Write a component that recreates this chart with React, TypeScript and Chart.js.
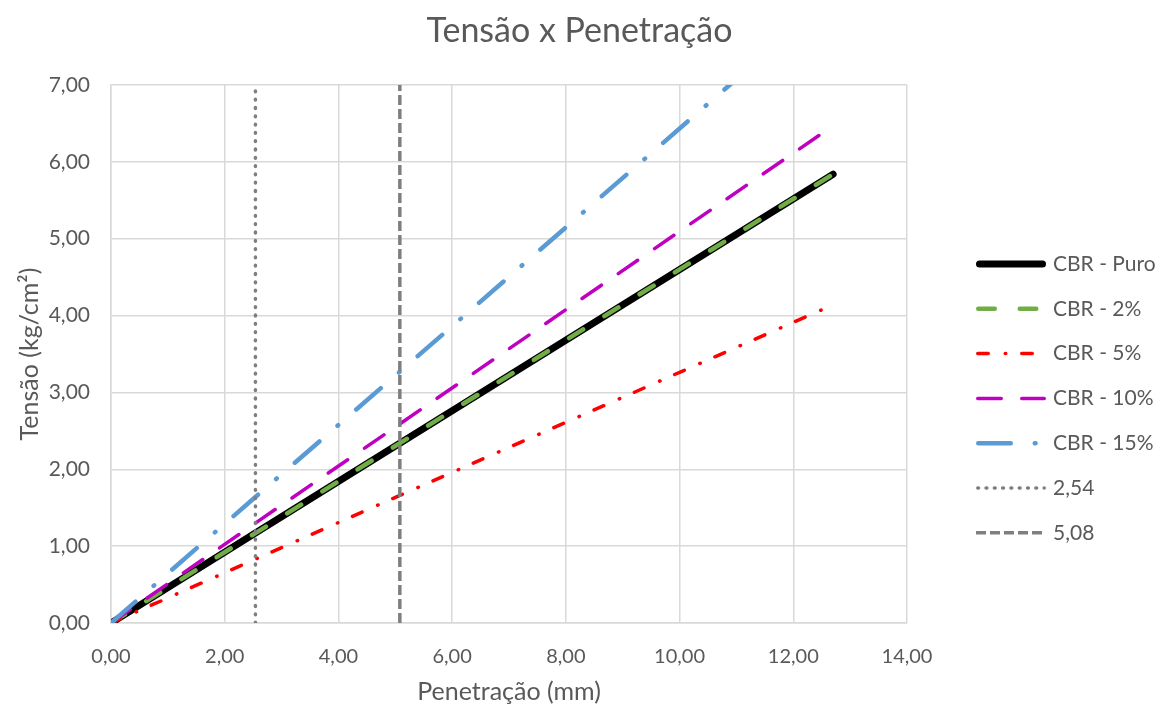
import { useEffect, useRef } from "react";
import { Chart, registerables } from "chart.js";

Chart.register(...registerables);

// Penetration readings (mm) and stress (kg/cm²) for each mix
const penetracao = [0, 2.54, 5.08, 12.7];
const tensaoPuro = [0, 1.17, 2.34, 5.84];
const tensao2 = [0, 1.17, 2.34, 5.84];
const tensao5 = [0, 0.83, 1.66, 4.14];
const tensao10 = [0, 1.3, 2.59, 6.47];
const tensao15 = [0, 1.64, 3.27, 8.17];

// Reference penetrations drawn as vertical lines
const refPenetracao254 = [2.54, 2.54];
const refPenetracao508 = [5.08, 5.08];
const refTensao = [0, 7];

const chartTitle = "Tensão x Penetração";
const seriesNames = ["CBR - Puro", "CBR - 2%", "CBR - 5%", "CBR - 10%", "CBR - 15%", "2,54", "5,08"];
const xTickLabels = ["0,00", "2,00", "4,00", "6,00", "8,00", "10,00", "12,00", "14,00"];
const yTickLabels = ["0,00", "1,00", "2,00", "3,00", "4,00", "5,00", "6,00", "7,00"];

const FONT = "Lato";
const TEXT = "#595959";
const GRID = "#d9d9d9";

const toPoints = (xs: number[], ys: number[]) => xs.map((x, i) => ({ x, y: ys[i] }));

// Title centred on the whole canvas, and legend rows on the right side
const frameText = {
  id: "frameText",
  afterDraw(chart: any) {
    const ctx = chart.ctx as CanvasRenderingContext2D;
    ctx.save();
    ctx.fillStyle = TEXT;
    ctx.font = `34px ${FONT}`;
    ctx.textAlign = "center";
    ctx.textBaseline = "middle";
    ctx.fillText(chartTitle, chart.width / 2, 31);
    ctx.restore();

    const lineStart = 976;
    const lineEnd = 1046;
    const textX = 1053;
    const firstRow = 264;
    const rowStep = 44.8;
    chart.data.datasets.forEach((ds: any, i: number) => {
      const y = firstRow + i * rowStep;
      ctx.save();
      const w = ds.borderWidth;
      const cap = ds.borderCapStyle || "butt";
      const inset = cap === "round" ? w / 2 : 0;
      ctx.strokeStyle = ds.borderColor;
      ctx.lineWidth = w;
      ctx.lineCap = cap;
      ctx.setLineDash(ds.borderDash || []);
      ctx.beginPath();
      ctx.moveTo(lineStart + inset, y);
      ctx.lineTo(lineEnd - inset, y);
      ctx.stroke();
      ctx.setLineDash([]);
      ctx.fillStyle = TEXT;
      ctx.font = `21px ${FONT}`;
      ctx.textAlign = "left";
      ctx.textBaseline = "middle";
      ctx.fillText(ds.label, textX, y);
      ctx.restore();
    });
  },
};

export default function App() {
  const canvasRef = useRef<HTMLCanvasElement | null>(null);

  useEffect(() => {
    if (!canvasRef.current) return;
    const common = { pointRadius: 0, pointHoverRadius: 0, fill: false, tension: 0 };
    const chart = new Chart(canvasRef.current, {
      type: "line",
      data: {
        datasets: [
          {
            ...common,
            label: seriesNames[0],
            data: toPoints(penetracao, tensaoPuro),
            borderColor: "#000000",
            borderWidth: 7,
            borderCapStyle: "round",
            order: 7,
          },
          {
            ...common,
            label: seriesNames[1],
            data: toPoints(penetracao, tensao2),
            borderColor: "#70ad47",
            borderWidth: 4.5,
            borderDash: [16.5, 25],
            borderCapStyle: "round",
            order: 6,
          },
          {
            ...common,
            label: seriesNames[2],
            data: toPoints(penetracao, tensao5),
            borderColor: "#ff0000",
            borderWidth: 3.5,
            borderDash: [10.5, 17, 0.5, 16],
            borderCapStyle: "round",
            order: 5,
          },
          {
            ...common,
            label: seriesNames[3],
            data: toPoints(penetracao, tensao10),
            borderColor: "#c000c0",
            borderWidth: 3.5,
            borderDash: [23.5, 20.5],
            borderCapStyle: "round",
            order: 4,
          },
          {
            ...common,
            label: seriesNames[4],
            data: toPoints(penetracao, tensao15),
            borderColor: "#5b9bd5",
            borderWidth: 4.5,
            borderDash: [32.5, 24, 0.8, 24],
            borderCapStyle: "round",
            clip: 0,
            order: 3,
          },
          {
            ...common,
            label: seriesNames[5],
            data: toPoints(refPenetracao254, refTensao),
            borderColor: "#7f7f7f",
            borderWidth: 3.5,
            borderDash: [0.8, 7.5],
            borderCapStyle: "round",
            order: 2,
          },
          {
            ...common,
            label: seriesNames[6],
            data: toPoints(refPenetracao508, refTensao),
            borderColor: "#7f7f7f",
            borderWidth: 3.5,
            borderDash: [10, 4],
            borderCapStyle: "butt",
            order: 1,
          },
        ],
      },
      options: {
        animation: false,
        responsive: false,
        events: [],
        layout: { padding: { top: 85, right: 252, bottom: 0, left: 0 } },
        plugins: {
          legend: { display: false },
          tooltip: { enabled: false },
          title: { display: false },
        },
        scales: {
          x: {
            type: "linear",
            min: 0,
            max: 14,
            afterFit: (s: any) => {
              s.height = 86;
            },
            ticks: {
              stepSize: 2,
              padding: 22,
              color: TEXT,
              font: { family: FONT, size: 20 },
              maxRotation: 0,
              callback: (_v: any, i: number) => xTickLabels[i],
            },
            grid: { color: GRID, lineWidth: 1.5, drawTicks: false },
            border: { color: GRID, width: 1.5 },
            title: {
              display: true,
              text: "Penetração (mm)",
              color: TEXT,
              font: { family: FONT, size: 25, lineHeight: 1.2 },
              padding: { top: 0, bottom: 2 },
            },
          },
          y: {
            type: "linear",
            min: 0,
            max: 7,
            afterFit: (s: any) => {
              s.width = 111;
            },
            ticks: {
              stepSize: 1,
              padding: 21,
              color: TEXT,
              font: { family: FONT, size: 21 },
              callback: (_v: any, i: number) => yTickLabels[i],
            },
            grid: { color: GRID, lineWidth: 1.5, drawTicks: false },
            border: { color: GRID, width: 1.5 },
            title: {
              display: true,
              text: "Tensão (kg/cm²)",
              color: TEXT,
              font: { family: FONT, size: 25, lineHeight: 1.2 },
              padding: { top: 15, bottom: 0 },
            },
          },
        },
      },
      plugins: [frameText],
    } as any);
    return () => chart.destroy();
  }, []);

  return (
    <div style={{ position: "absolute", left: 0, top: 0, width: 1159, height: 709, background: "#ffffff" }}>
      <canvas ref={canvasRef} width={1159} height={709} style={{ display: "block" }} />
    </div>
  );
}
